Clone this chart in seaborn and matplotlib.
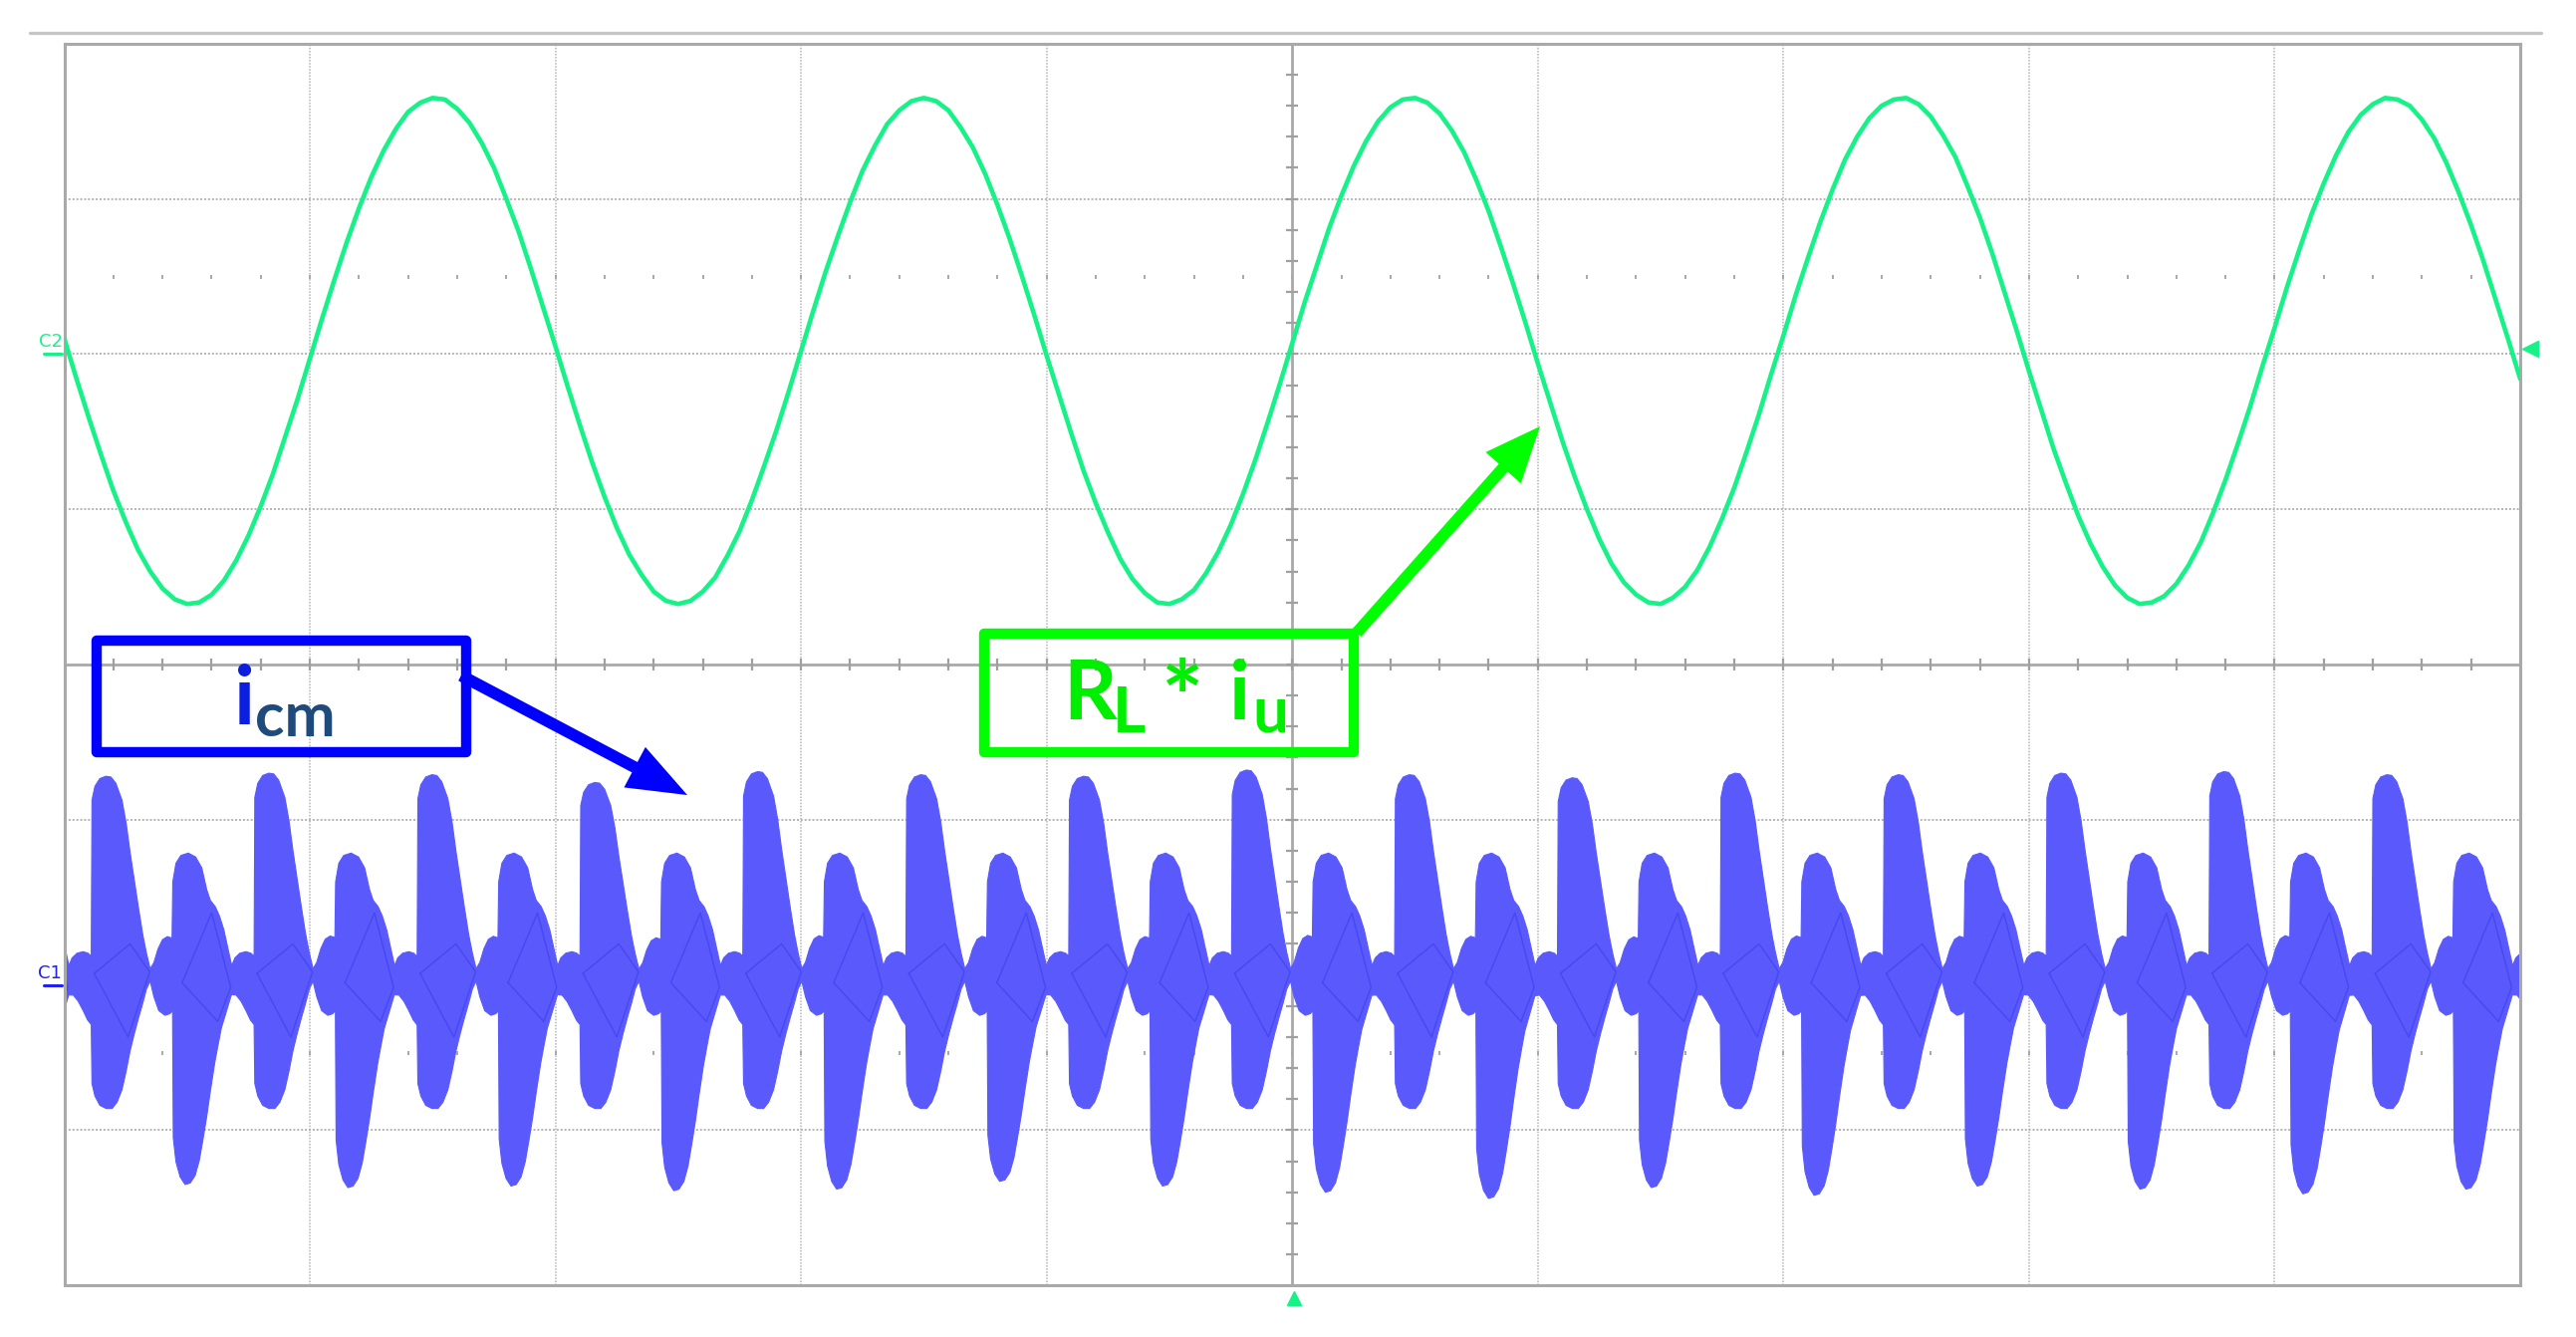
import matplotlib

matplotlib.use("Agg")

import matplotlib.pyplot as plt
import numpy as np
import pandas as pd
import seaborn as sns
from matplotlib.lines import Line2D
from matplotlib.patches import Rectangle

sns.set_theme(style="white")
plt.rcParams["font.family"] = ["Lato", "DejaVu Sans"]

# screen is 10 x 8 divisions; C2 reference at +2 div, C1 reference at -2 div
SINE_DT = 0.05
sine_vals = [
    2.10, 1.84, 1.59, 1.35, 1.12, 0.92, 0.74, 0.60, 0.49, 0.42,
    0.39, 0.40, 0.45, 0.54, 0.67, 0.83, 1.02, 1.23, 1.47, 1.71,
    1.97, 2.23, 2.48, 2.72, 2.94, 3.14, 3.31, 3.45, 3.56, 3.62,
    3.65, 3.64, 3.58, 3.49, 3.36, 3.20, 3.00, 2.79, 2.55, 2.30,
    2.05, 1.79, 1.54, 1.30, 1.08, 0.88, 0.71, 0.58, 0.47, 0.41,
    0.39, 0.41, 0.47, 0.56, 0.70, 0.86, 1.06, 1.28, 1.51, 1.76,
    2.02, 2.28, 2.53, 2.76, 2.98, 3.18, 3.34, 3.48, 3.57, 3.63,
    3.65, 3.63, 3.57, 3.46, 3.33, 3.16, 2.96, 2.74, 2.50, 2.25,
    1.99, 1.74, 1.49, 1.25, 1.04, 0.85, 0.68, 0.55, 0.46, 0.40,
    0.39, 0.42, 0.48, 0.59, 0.73, 0.90, 1.10, 1.32, 1.56, 1.81,
    2.07, 2.33, 2.57, 2.81, 3.02, 3.21, 3.37, 3.50, 3.59, 3.64,
    3.65, 3.62, 3.55, 3.44, 3.30, 3.12, 2.92, 2.69, 2.45, 2.20,
    1.94, 1.69, 1.44, 1.21, 1.00, 0.81, 0.65, 0.53, 0.45, 0.40,
    0.39, 0.43, 0.50, 0.61, 0.76, 0.94, 1.14, 1.37, 1.61, 1.87,
    2.12, 2.38, 2.62, 2.85, 3.06, 3.25, 3.40, 3.52, 3.60, 3.64,
    3.65, 3.61, 3.53, 3.41, 3.27, 3.08, 2.88, 2.65, 2.40, 2.15,
    1.89, 1.64, 1.39, 1.17, 0.96, 0.78, 0.63, 0.51, 0.43, 0.39,
    0.40, 0.44, 0.52, 0.64, 0.79, 0.98, 1.19, 1.42, 1.66, 1.92,
    2.17, 2.43, 2.67, 2.90, 3.10, 3.28, 3.43, 3.54, 3.61, 3.65,
    3.64, 3.60, 3.51, 3.39, 3.23, 3.04, 2.83, 2.60, 2.35, 2.10,
    1.84,
]

# i_cm: one burst pair (tall-up burst, then tall-down burst)
burst_starts = [-0.553, 0.110, 0.773, 1.437, 2.100, 2.763, 3.427, 4.090,
                4.753, 5.417, 6.080, 6.743, 7.407, 8.070, 8.733, 9.397]
a_peaks = [-0.71, -0.72, -0.70, -0.71, -0.76, -0.69, -0.71, -0.72,
           -0.68, -0.71, -0.73, -0.70, -0.71, -0.70, -0.69, -0.71]
b_troughs = [-3.38, -3.35, -3.37, -3.36, -3.39, -3.38, -3.33, -3.36,
             -3.40, -3.44, -3.37, -3.42, -3.36, -3.38, -3.41, -3.38]
A_REF, B_REF = -0.705, -3.39

top_u = [0.000, 0.003, 0.015, 0.035, 0.060, 0.080, 0.100, 0.125, 0.142, 0.158,
         0.175, 0.192, 0.210, 0.225, 0.240, 0.255, 0.272, 0.290, 0.310, 0.329,
         0.332, 0.345, 0.365, 0.395, 0.425, 0.450, 0.470, 0.485, 0.505, 0.522,
         0.540, 0.558, 0.572, 0.585, 0.605, 0.630, 0.650, 0.663]
top_y = [-1.88, -0.86, -0.77, -0.72, -0.705, -0.71, -0.75, -0.86, -1.01, -1.20,
         -1.38, -1.56, -1.74, -1.86, -1.96, -1.92, -1.83, -1.77, -1.75, -1.76,
         -1.40, -1.28, -1.23, -1.215, -1.24, -1.31, -1.45, -1.52, -1.56, -1.62,
         -1.71, -1.84, -1.94, -1.89, -1.86, -1.85, -1.86, -1.88]
bot_u = [0.000, 0.003, 0.015, 0.035, 0.060, 0.085, 0.105, 0.125, 0.142, 0.158,
         0.175, 0.192, 0.210, 0.225, 0.240, 0.255, 0.275, 0.300, 0.320, 0.331,
         0.334, 0.345, 0.362, 0.382, 0.403, 0.423, 0.440, 0.455, 0.470, 0.485,
         0.503, 0.518, 0.530, 0.545, 0.558, 0.571, 0.590, 0.610, 0.630, 0.648,
         0.663]
bot_y = [-2.32, -2.70, -2.78, -2.84, -2.86, -2.86, -2.82, -2.74, -2.62, -2.49,
         -2.38, -2.28, -2.18, -2.09, -2.04, -2.14, -2.23, -2.26, -2.25, -2.23,
         -3.08, -3.24, -3.34, -3.39, -3.38, -3.33, -3.23, -3.09, -2.94, -2.77,
         -2.58, -2.45, -2.35, -2.27, -2.20, -2.13, -2.13, -2.17, -2.23, -2.29,
         -2.32]

# darker overlapping loops inside each burst
loop_a_u = [0.012, 0.158, 0.238, 0.150, 0.012]
loop_a_y = [-1.99, -1.80, -1.98, -2.40, -1.99]
loop_b_u = [0.370, 0.490, 0.568, 0.515, 0.370]
loop_b_y = [-2.05, -1.60, -2.08, -2.30, -2.05]

GREEN = "#17f288"
BLUE_FILL = "#5a5afc"
GRID = "#b4b4b4"


def _envelope():
    tu, ty = np.array(top_u), np.array(top_y)
    bu, by = np.array(bot_u), np.array(bot_y)
    xt, yt, xb, yb = [], [], [], []
    for s, pk, tr in zip(burst_starts, a_peaks, b_troughs):
        ka = (pk + 2) / (A_REF + 2)
        kb = (tr + 2) / (B_REF + 2)
        xt.append(s + tu)
        yt.append(np.where(tu < 0.331, -2 + (ty + 2) * ka, ty))
        xb.append(s + bu)
        yb.append(np.where((bu > 0.332) & (bu < 0.572), -2 + (by + 2) * kb, by))
    return np.concatenate(xt), np.concatenate(yt), np.concatenate(xb), np.concatenate(yb)


W, H = 2586, 1342
fig = plt.figure(figsize=(W / 100, H / 100), dpi=100)
left, right, top, bottom = 64.5, 2530, 43.8, 1290.2
ax = fig.add_axes([left / W, 1 - bottom / H, (right - left) / W, (bottom - top) / H])
ax.set_xlim(0, 10)
ax.set_ylim(-4, 4)
ax.set_xticks([])
ax.set_yticks([])
for sp in ax.spines.values():
    sp.set_color("#a9a9a9")
    sp.set_linewidth(2.2)

# graticule
for gx in range(1, 10):
    if gx != 5:
        ax.axvline(gx, color=GRID, lw=1.1, ls=(0, (1, 1)), zorder=1)
for gy in [-3, -2, -1, 1, 2, 3]:
    ax.axhline(gy, color=GRID, lw=1.4, ls=(0, (1, 1)), zorder=1)
ax.axhline(0, color="#a9a9a9", lw=2.0, zorder=1)
ax.axvline(5, color="#a9a9a9", lw=2.0, zorder=1)
minor = np.arange(0.2, 10, 0.2)
ax.plot(minor, np.zeros_like(minor), ls="none", marker="|", ms=8, mew=1.6, color="#a0a0a0", zorder=1)
vminor = np.arange(-3.8, 4, 0.2)
ax.plot(np.full_like(vminor, 5), vminor, ls="none", marker="_", ms=8, mew=1.6, color="#a0a0a0", zorder=1)
for row in [2.5, -2.5]:
    ax.plot(minor, np.full_like(minor, row), ls="none", marker="|", ms=3, mew=1.4, color="#a8a8a8", zorder=1)

# C1 trace: filled burst envelope
xt, yt, xb, yb = _envelope()
ax.fill(np.r_[xt, xb[::-1]], np.r_[yt, yb[::-1]], color=BLUE_FILL, lw=0.8, ec=BLUE_FILL, zorder=2)
for s in burst_starts:
    for lu, ly in [(loop_a_u, loop_a_y), (loop_b_u, loop_b_y)]:
        ax.plot(s + np.array(lu), ly, color="#3434ea", lw=1.1, alpha=0.45, zorder=2)

# C2 trace
sine_df = pd.DataFrame({"t": np.arange(len(sine_vals)) * SINE_DT, "v": sine_vals})
sns.lineplot(data=sine_df, x="t", y="v", ax=ax, color=GREEN, lw=3.3, estimator=None,
             solid_joinstyle="round", zorder=3)
ax.set_xlabel("")
ax.set_ylabel("")

# channel markers
ax.text(-0.103, 2.05, "C2", color=GREEN, fontsize=13, family=["DejaVu Sans"], ha="left", va="baseline", clip_on=False)
ax.plot([-0.085, -0.01], [2.0, 2.0], color=GREEN, lw=2.2, clip_on=False)
ax.text(-0.107, -2.02, "C1", color="#2020f0", fontsize=13, family=["DejaVu Sans"], ha="left", va="baseline", clip_on=False)
ax.plot([-0.083, -0.01], [-2.067, -2.067], color="#2020f0", lw=2.2, clip_on=False)
ax.plot([10.04], [2.035], marker="<", ms=11, color=GREEN, clip_on=False, ls="none")
ax.plot([5.009], [-4.085], marker="^", ms=10, color=GREEN, clip_on=False, ls="none")

# annotation boxes
bold = dict(family=["Lato", "DejaVu Sans"], weight="bold", va="baseline", ha="left")
ax.add_patch(Rectangle((0.132, -0.568), 1.505, 0.719, fill=False, ec="#0000ff", lw=7.5, joinstyle="round", zorder=5))
ax.text(0.692, -0.385, "i", color="#0c1fe0", fontsize=60, zorder=6, **bold)
ax.text(0.777, -0.462, "cm", color="#1f4a7c", fontsize=44, zorder=6, **bold)
ax.annotate("", xy=(2.537, -0.841), xytext=(1.616, -0.071),
            arrowprops=dict(arrowstyle="simple,head_length=4.3,head_width=3.3,tail_width=0.85",
                            mutation_scale=10, color="#0000ff", lw=0, shrinkA=0, shrinkB=0), zorder=6)

ax.add_patch(Rectangle((3.745, -0.562), 1.505, 0.764, fill=False, ec="#00ff00", lw=7.5, joinstyle="round", zorder=5))
ax.text(4.066, -0.353, "R", color="#00ee00", fontsize=60, zorder=6, **bold)
ax.text(4.269, -0.436, "L", color="#00ee00", fontsize=46, zorder=6, **bold)
ax.text(4.468, -0.44, "*", color="#00ee00", fontsize=72, zorder=6, **bold)
ax.text(4.744, -0.353, "i", color="#00ee00", fontsize=60, zorder=6, **bold)
ax.text(4.837, -0.436, "u", color="#00ee00", fontsize=46, zorder=6, **bold)
ax.annotate("", xy=(6.009, 1.534), xytext=(5.263, 0.205),
            arrowprops=dict(arrowstyle="simple,head_length=4.0,head_width=3.4,tail_width=0.85",
                            mutation_scale=10, color="#00ff00", lw=0, shrinkA=0, shrinkB=0), zorder=6)

# thin rule above the screen
fig.add_artist(Line2D([30 / W, 2551 / W], [1 - 33 / H, 1 - 33 / H], color="#c6c6c6", lw=2.4))

fig.savefig("out.png", dpi=100)
